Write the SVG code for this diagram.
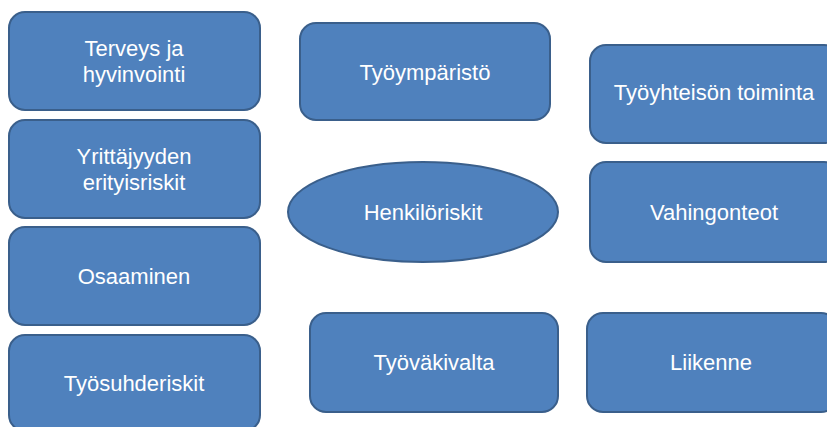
<svg xmlns="http://www.w3.org/2000/svg" width="827" height="427" viewBox="0 0 827 427">
<style>
.box{fill:#4F81BD;stroke:#3A5F8B;stroke-width:2}
.t{fill:#FFFFFF;font-family:"Liberation Sans",Arial,sans-serif;font-size:22px;text-anchor:middle}
</style>
<rect width="827" height="427" fill="#FFFFFF"/>
<g id="connectors"></g>
<g id="terveys"><rect class="box" x="9" y="12" width="251" height="98" rx="16"/><text class="t" x="134" y="56">Terveys ja</text><text class="t" x="134" y="82">hyvinvointi</text></g>
<g id="yrittajyys"><rect class="box" x="9" y="120" width="251" height="98" rx="16"/><text class="t" x="134" y="164">Yrittäjyyden</text><text class="t" x="134" y="190">erityisriskit</text></g>
<g id="osaaminen"><rect class="box" x="9" y="227" width="251" height="98" rx="16"/><text class="t" x="134" y="284">Osaaminen</text></g>
<g id="tyosuhde"><rect class="box" x="9" y="335" width="251" height="96" rx="16"/><text class="t" x="134" y="391">Työsuhderiskit</text></g>
<g id="tyoymparisto"><rect class="box" x="300" y="23" width="250" height="97" rx="16"/><text class="t" x="425" y="80">Työympäristö</text></g>
<g id="henkiloriskit"><ellipse class="box" cx="423" cy="212" rx="135" ry="50"/><text class="t" x="423" y="220">Henkilöriskit</text></g>
<g id="tyovakivalta"><rect class="box" x="310" y="313" width="248" height="99" rx="16"/><text class="t" x="434" y="370">Työväkivalta</text></g>
<g id="tyoyhteiso"><rect class="box" x="590" y="45" width="250" height="98" rx="16"/><text class="t" x="714" y="100">Työyhteisön toiminta</text></g>
<g id="vahingonteot"><rect class="box" x="590" y="162" width="250" height="100" rx="16"/><text class="t" x="714" y="220">Vahingonteot</text></g>
<g id="liikenne"><rect class="box" x="587" y="313" width="250" height="99" rx="16"/><text class="t" x="711" y="370">Liikenne</text></g>
</svg>
